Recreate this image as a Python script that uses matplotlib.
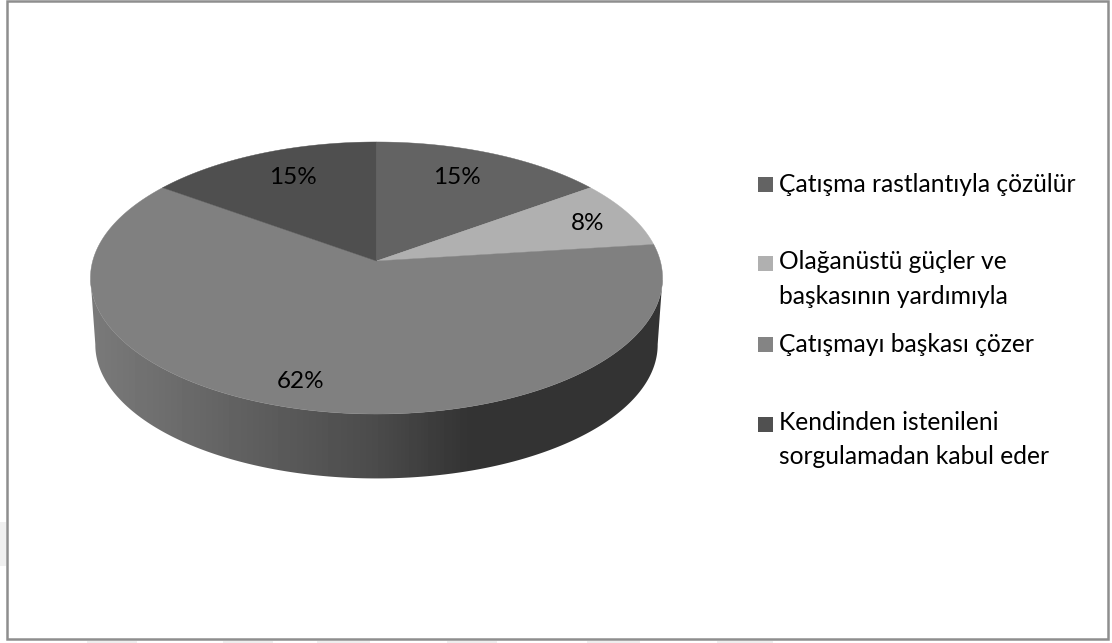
import numpy as np
import matplotlib
matplotlib.use('Agg')
import matplotlib.pyplot as plt
from matplotlib.patches import Polygon, Rectangle

plt.rcParams['font.family'] = ['Lato', 'DejaVu Sans']

# Veriler
categories = ['Çatışma rastlantıyla çözülür',
              'Olağanüstü güçler ve\nbaşkasının yardımıyla',
              'Çatışmayı başkası çözer',
              'Kendinden istenileni\nsorgulamadan kabul eder']
values = [15, 8, 62, 15]
colors = ['#636363', '#b0b0b0', '#808080', '#4f4f4f']
swatch_colors = ['#636363', '#b0b0b0', '#848484', '#505050']

# Dilim etiketlerinin yerleri (piksel)
label_pos = [(457, 177), (588, 224), (301, 381), (293, 177)]
swatch_base = [191.5, 271, 351.5, 432]
text_base = [191.5, 303.5, 351.5, 464]

# Perspektif: disk -> ekran
cx, cy = 376.5, 261
A, B, k = 283.8, 133.9, 0.125
side_scale, side_dy = 0.983, 67


def project(theta):
    u, v = np.sin(theta), np.cos(theta)
    d = 1 + k * v
    return cx + A * u / d, cy - B * v / d


def project_bottom(theta):
    x, y = project(theta)
    return cx + side_scale * (x - cx), cy + side_scale * (y - cy) + side_dy


fig = plt.figure(figsize=(11.12, 6.43), dpi=100)
ax = fig.add_axes([0, 0, 1, 1])
ax.set_xlim(0, 1112)
ax.set_ylim(643, 0)
ax.axis('off')

# Arka plandaki soluk izler
for x0, x1 in [(87, 137), (223, 273), (317, 370), (447, 497), (587, 640), (717, 773)]:
    ax.add_patch(Rectangle((x0, 640.5), x1 - x0, 3, fc='#eeeeee', ec='none', zorder=0))
ax.add_patch(Rectangle((0, 522), 6, 44, fc='#f0f0f0', ec='none', zorder=0))

# Çerçeve
ax.add_patch(Rectangle((7, 0.5), 1101, 638.5, fc='white', ec='#8e8e8e', lw=1.8, zorder=1))

# Yan yüzey (gradyan)
t = np.linspace(0, 2 * np.pi, 720, endpoint=False)
tx, _ = project(t)
t_right = t[np.argmax(tx)]
t_left = t[np.argmin(tx)]
front = np.linspace(t_right, t_left, 300)
top_x, top_y = project(front)
bot_x, bot_y = project_bottom(front)
side_pts = np.c_[np.r_[top_x, bot_x[::-1]], np.r_[top_y, bot_y[::-1]]]
side = Polygon(side_pts, closed=True, fc='none', ec='none', transform=ax.transData)
ax.add_patch(side)

gx = np.arange(85, 670)
gray = np.interp(gx, [90, 150, 250, 376, 470, 670], [0x7a, 0x70, 0x5f, 0x4b, 0x33, 0x33]) / 255
im = ax.imshow(gray[None, :], cmap='gray', vmin=0, vmax=1, extent=(85, 670, 490, 280),
               aspect='auto', zorder=2)
im.set_clip_path(side)
ax.set_xlim(0, 1112)
ax.set_ylim(643, 0)

# Üst yüzey dilimleri
bounds = np.cumsum([0] + values) / sum(values) * 2 * np.pi
for i in range(len(values)):
    arc = np.linspace(bounds[i], bounds[i + 1], 200)
    x, y = project(arc)
    pts = np.c_[np.r_[cx, x], np.r_[cy, y]]
    ax.add_patch(Polygon(pts, closed=True, fc=colors[i], ec=colors[i], lw=0.3, zorder=3))

# Yüzde etiketleri
for v, (lx, ly) in zip(values, label_pos):
    ax.text(lx, ly, f'{v}%', ha='center', va='center', fontsize=17.5, color='black', zorder=4)

# Lejant
for name, c, sy, ly in zip(categories, swatch_colors, swatch_base, text_base):
    ax.add_patch(Rectangle((758, sy - 15), 15, 15, fc=c, ec='none', zorder=4))
    ax.text(779, ly, name, ha='left', va='baseline', fontsize=17.7, color='black',
            linespacing=1.58, zorder=4)

fig.savefig('out.png', dpi=100)
